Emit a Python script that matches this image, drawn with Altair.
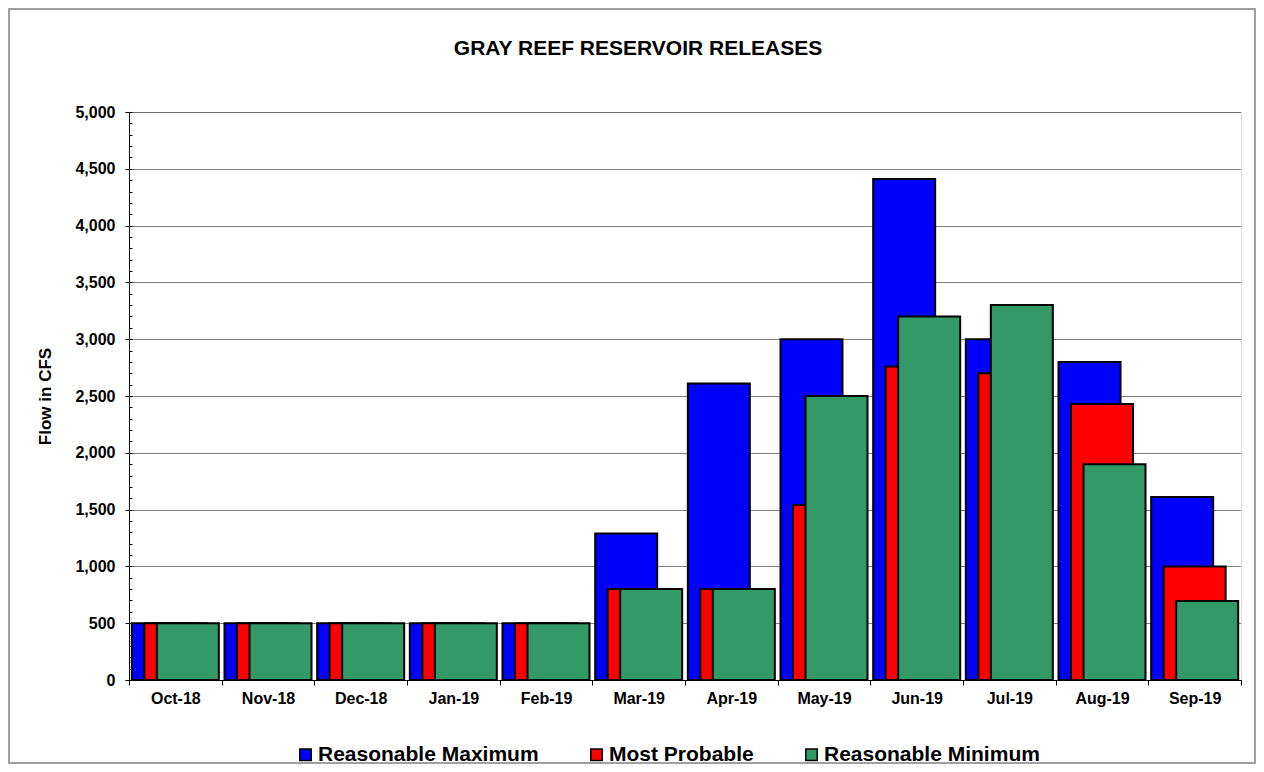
import altair as alt
import pandas as pd

months = ["Oct-18", "Nov-18", "Dec-18", "Jan-19", "Feb-19", "Mar-19",
          "Apr-19", "May-19", "Jun-19", "Jul-19", "Aug-19", "Sep-19"]
series = ["Reasonable Maximum", "Most Probable", "Reasonable Minimum"]
colors = ["#0000FF", "#FF0000", "#339966"]
reasonable_max = [500, 500, 500, 500, 500, 1290, 2610, 3000, 4410, 3000, 2800, 1610]
most_probable = [500, 500, 500, 500, 500, 800, 800, 1540, 2760, 2700, 2430, 1000]
reasonable_min = [500, 500, 500, 500, 500, 800, 800, 2500, 3200, 3300, 1900, 695]
y_ticks = list(range(0, 5001, 500))
y_minor = list(range(0, 5001, 100))
chart_title = "GRAY REEF RESERVOIR RELEASES"

rows = []
for s, vals in zip(series, [reasonable_max, most_probable, reasonable_min]):
    for m, v in zip(months, vals):
        rows.append({"Month": m, "Series": s, "Flow": v})
df = pd.DataFrame(rows)

FONT = "Liberation Sans"
W, H = 1112, 568

x_enc = alt.X("Month:N", sort=months,
              scale=alt.Scale(paddingInner=0, paddingOuter=0),
              axis=alt.Axis(title=None, labelAngle=0, labelFont=FONT, labelFontSize=16,
                            labelFontWeight="bold", labelColor="black", labelPadding=5,
                            tickBand="extent", tickSize=5, tickColor="black",
                            domainColor="black", domainWidth=1, grid=False))
color_enc = alt.Color("Series:N",
                      scale=alt.Scale(domain=series, range=colors),
                      legend=alt.Legend(title=None, orient="none", direction="horizontal",
                                        legendX=166, legendY=632,
                                        symbolType="square", symbolSize=130,
                                        symbolStrokeColor="black", symbolStrokeWidth=1.5,
                                        symbolOpacity=1, labelLimit=400,
                                        labelFont=FONT, labelFontSize=21, labelFontWeight="bold",
                                        labelColor="black", labelOffset=2, columnPadding=47))

major_axis = alt.Axis(title="Flow in CFS", values=y_ticks,
                      labelExpr="format(datum.value, ',')",
                      labelFont=FONT, labelFontSize=16, labelFontWeight="bold",
                      labelColor="black", labelPadding=10, tickSize=4, tickColor="black",
                      domainColor="black", titleFont=FONT, titleFontSize=17,
                      titleFontWeight="bold", titleColor="black", titlePadding=20,
                      grid=True, gridColor="black", gridDash=[1, 1], gridWidth=1)
minor_axis = alt.Axis(title=None, values=y_minor, labels=False, domain=False, grid=False,
                      tickSize=3, tickColor="black", offset=-3, orient="left")
y_scale = alt.Scale(domain=[0, 5000], nice=False)

layers = []
for i, (s, off) in enumerate(zip(series, [-12.5, 0, 12.5])):
    ax = major_axis if i == 0 else (minor_axis if i == 2 else None)
    layers.append(
        alt.Chart(df).transform_filter(alt.datum.Series == s)
        .mark_bar(width=62, xOffset=off, stroke="black", strokeWidth=2, opacity=1)
        .encode(x=x_enc,
                y=alt.Y("Flow:Q", scale=y_scale, axis=ax),
                color=color_enc)
    )

frame = alt.Chart(alt.Data(values=[{}])).mark_rect(
    filled=False, stroke="#808080", strokeWidth=1.5
).encode(x=alt.value(-120), x2=alt.value(W + 14),
         y=alt.value(-103), y2=alt.value(H + 83))

title = alt.Chart(alt.Data(values=[{}])).mark_text(
    font=FONT, fontSize=21, fontWeight="bold", color="black",
    align="center", baseline="alphabetic"
).encode(text=alt.value(chart_title), x=alt.value(509), y=alt.value(-57))

chart = alt.layer(frame, title, *layers).resolve_axis(y="independent").properties(
    width=W, height=H,
    autosize=alt.AutoSizeParams(type="none"),
    padding={"left": 121, "top": 104, "right": 15, "bottom": 84},
).configure_view(stroke="#808080", strokeWidth=2).configure(background="white")

chart.save("out.html", embed_options={"renderer": "svg", "actions": False})
